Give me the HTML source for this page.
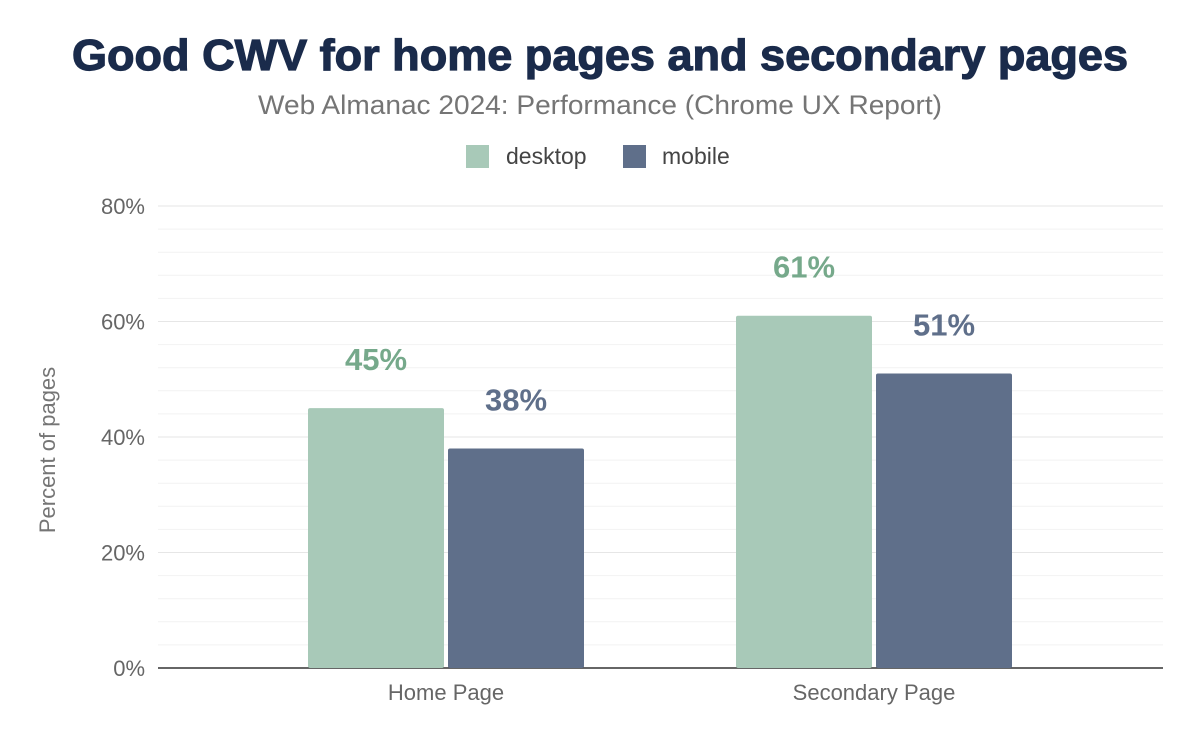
<!DOCTYPE html>
<html><head><meta charset="utf-8"><style>
body{margin:0;background:#fff;font-family:"Liberation Sans",sans-serif}
svg{display:block}
</style></head><body>
<svg id="chart" width="1200" height="742">
<text x="600" y="70" text-anchor="middle" font-size="44" font-weight="bold" fill="#1a2b4b" stroke="#1a2b4b" stroke-width="1.2" textLength="1056" lengthAdjust="spacingAndGlyphs">Good CWV for home pages and secondary pages</text>
<text x="600" y="114" text-anchor="middle" font-size="27" fill="#757575" textLength="684" lengthAdjust="spacingAndGlyphs">Web Almanac 2024: Performance (Chrome UX Report)</text>
<g>
<g><rect x="466" y="145" width="23" height="23" fill="#a8c9b8"/><text x="506" y="164" font-size="23" fill="#444">desktop</text></g>
<g><rect x="623" y="145" width="23" height="23" fill="#5f6f8a"/><text x="662" y="164" font-size="23" fill="#444">mobile</text></g>
</g>
<g id="grid"></g><g id="bars"></g><g id="labels"></g>
<text transform="translate(55,450) rotate(-90)" text-anchor="middle" font-size="22" fill="#757575">Percent of pages</text>
</svg>
<script>
const categories = ["Home Page","Secondary Page"];
const desktopValues = [45,61];
const mobileValues = [38,51];
const yTicks = [0,20,40,60,80];
const NS="http://www.w3.org/2000/svg";
const x0=158,x1=1163,y0=668,yTop=206,yMax=80;
const bandStart=232,bandEnd=1088;
function y(v){return y0-(v/yMax)*(y0-yTop);}
function xc(i){const w=(bandEnd-bandStart)/categories.length;return bandStart+w*(i+0.5);}
function mk(tag,attrs,parent){const e=document.createElementNS(NS,tag);for(const k in attrs)e.setAttribute(k,attrs[k]);parent.appendChild(e);return e;}
const grid=document.getElementById('grid'),bars=document.getElementById('bars'),labels=document.getElementById('labels');
for(let v=0;v<=yMax;v+=4){
  const l=mk('line',{x1:x0,x2:x1,y1:y(v),y2:y(v),stroke:v%20===0?'#e6e6e6':'#f2f2f2','stroke-width':1},grid);
  
  
}
yTicks.forEach(v=>{
  const t=mk('text',{x:145,y:y(v)+8,'text-anchor':'end','font-size':22,fill:'#666'},grid);
  t.textContent=v+'%';
  
  
});
const ax=mk('line',{x1:x0,x2:x1,y1:y0,y2:y0,stroke:'#333','stroke-width':1.5},grid);


const bw=136,gap=4;
const series=[{vals:desktopValues,fill:'#a8c9b8',lab:'#76a98b',name:'desktop',off:-bw-gap/2},{vals:mobileValues,fill:'#5f6f8a',lab:'#5f6f8a',name:'mobile',off:gap/2}];
categories.forEach((c,i)=>{
  series.forEach(s=>{
    const v=s.vals[i];const bx=xc(i)+s.off;
    const r=mk('rect',{x:bx,y:y(v),width:bw,height:y0-y(v),fill:s.fill,rx:2},bars);
    
    
    const t=mk('text',{x:bx+bw/2,y:y(v)-38,'text-anchor':'middle','font-size':31,'font-weight':'bold',fill:s.lab},labels);
    t.textContent=v+'%';
    
    
  });
  const t=mk('text',{x:xc(i),y:700,'text-anchor':'middle','font-size':22,fill:'#666'},labels);
  t.textContent=c;
  
  
});
</script>
</body></html>
